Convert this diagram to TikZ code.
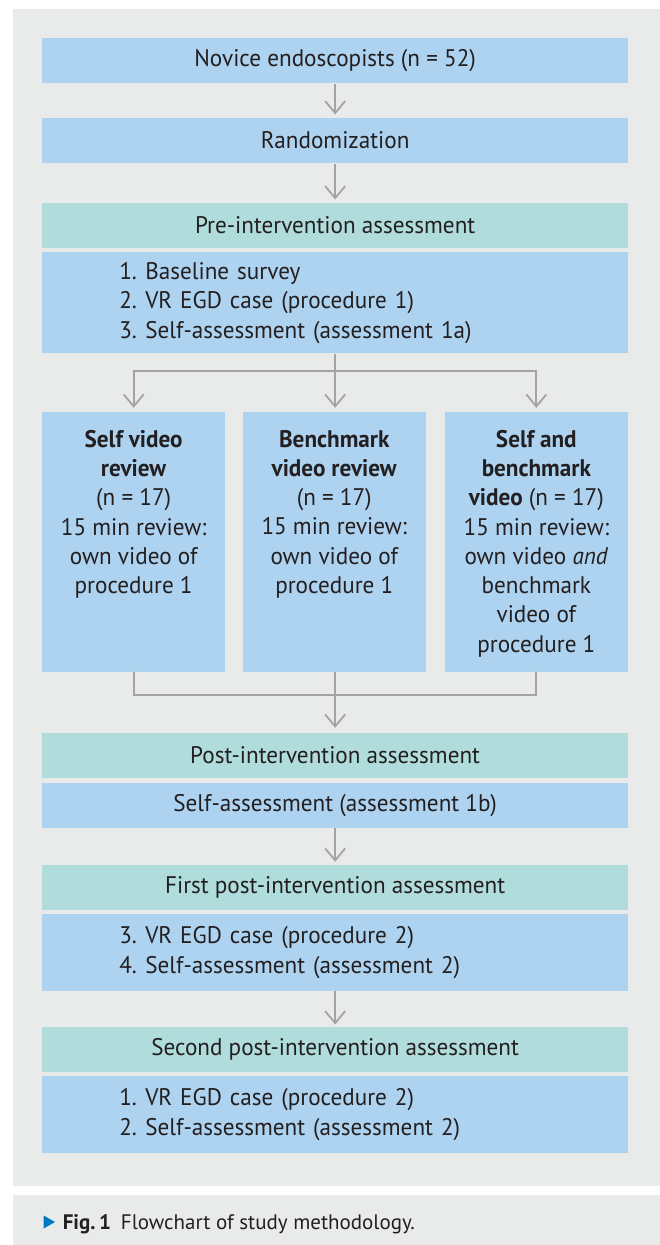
\documentclass[tikz,border=0pt]{standalone}
\usepackage{fontspec}
\setmainfont{PT Sans}[FakeStretch=0.965]
\newfontfamily\capfont{PT Sans}
\usetikzlibrary{arrows.meta}
\definecolor{bluebox}{RGB}{173,211,240}
\definecolor{greenbox}{RGB}{176,221,220}
\definecolor{graybg}{RGB}{233,235,235}
\definecolor{lineg}{RGB}{163,163,163}
\definecolor{txtc}{RGB}{35,31,32}
\definecolor{capblue}{RGB}{0,119,190}
\tikzset{
  boxbase/.style={rectangle, inner sep=0pt, text=txtc, minimum width=585.7pt,
    font=\fontsize{24}{29.5}\selectfont},
  bluebx/.style={boxbase, fill=bluebox},
  greenbx/.style={boxbase, fill=greenbox},
  listbx/.style={bluebx, text width=431.7pt, align=left},
  groupbx/.style={rectangle, inner sep=0pt, fill=bluebox, minimum width=182.7pt, minimum height=259.7pt},
  grouptxt/.style={inner sep=0pt, text=txtc, align=center, font=\fontsize{24}{29.3}\selectfont, anchor=north},
  conn/.style={draw=lineg, line width=1.8pt},
  arr/.style={conn, -{Straight Barb[length=12pt, width=20pt]}, shorten >=3pt},
}
\newcommand{\itm}[1]{\makebox[26pt][l]{#1}}
\begin{document}
\begin{tikzpicture}[x=1pt, y=-1pt]
\useasboundingbox (0,0) rectangle (660,1245);
\fill[graybg] (12.7,9) rectangle (660,1185.7);
\fill[graybg] (12.7,1195) rectangle (660,1245);

\node[bluebx, minimum height=45.6pt] (b1) at (335.15,60.5) {Novice endoscopists (n = 52)};
\node[bluebx, minimum height=45.6pt] (b2) at (335.15,140.5) {Randomization};
\node[greenbx, minimum height=45.6pt] (pre) at (335.15,225.5) {Pre-intervention assessment};
\node[listbx, minimum height=101.3pt] (l1) at (335.15,302.65) {\itm{1.}Baseline survey\\\itm{2.}VR EGD case (procedure 1)\\\itm{3.}Self-assessment (assessment 1a)};

\node[groupbx] (g1) at (133.65,541.85) {};
\node[groupbx] (g2) at (334.25,541.85) {};
\node[groupbx] (g3) at (536.35,541.85) {};
\node[grouptxt] (t1) at ([yshift=-18pt]g1.north) {\textbf{Self video}\\\textbf{review}\\(n = 17)\\15 min review:\\own video of\\procedure 1};
\node[grouptxt] (t2) at ([yshift=-18pt]g2.north) {\textbf{Benchmark}\\\textbf{video review}\\(n = 17)\\15 min review:\\own video of\\procedure 1};
\node[grouptxt] (t3) at ([yshift=-18pt]g3.north) {\textbf{Self and}\\\textbf{benchmark}\\\textbf{video} (n = 17)\\15 min review:\\own video \textit{and}\\benchmark\\video of\\procedure 1};

\node[greenbx, minimum height=45pt] (post) at (335.15,755.5) {Post-intervention assessment};
\node[bluebx, minimum height=45.3pt] (s1b) at (335.15,805.35) {Self-assessment (assessment 1b)};
\node[greenbx, minimum height=45pt] (first) at (335.15,887.5) {First post-intervention assessment};
\node[listbx, minimum height=76.7pt] (l2) at (335.15,952.35) {\itm{3.}VR EGD case (procedure 2)\\\itm{4.}Self-assessment (assessment 2)};
\node[greenbx, minimum height=45pt] (second) at (335.15,1049.2) {Second post-intervention assessment};
\node[listbx, minimum height=76.7pt] (l3) at (335.15,1114.35) {\itm{1.}VR EGD case (procedure 2)\\\itm{2.}Self-assessment (assessment 2)};

\coordinate (j1) at (335.15,370.7);
\coordinate (j2) at (335.15,695);

\draw[arr] (b1) -- (b2);
\draw[arr] (b2) -- (pre);
\draw[conn] (l1.south) -- (j1);
\draw[arr, shorten >=4pt] (j1) -| (g1.north);
\draw[arr, shorten >=4pt] (j1) -- (j1 |- g2.north);
\draw[arr, shorten >=4pt] (j1) -| (g3.north);
\draw[conn] (g1.south) |- (j2);
\draw[conn] (g3.south) |- (j2);
\draw[conn] (j2 |- g2.south) -- (j2);
\draw[arr, shorten >=5pt] (j2) -- (post.north);
\draw[arr] (s1b) -- (first);
\draw[arr, shorten >=2pt] (l2) -- (second);

\fill[capblue] (43.6,1215.5) -- (55,1222) -- (43.6,1228.5) -- cycle;
\node[inner sep=0pt, anchor=base west, text=txtc, font=\capfont\fontsize{21}{25}\selectfont] (cap) at (62.6,1229) {\textbf{Fig.\,1}\hspace{10pt}Flowchart of study methodology.};
\end{tikzpicture}
\end{document}
